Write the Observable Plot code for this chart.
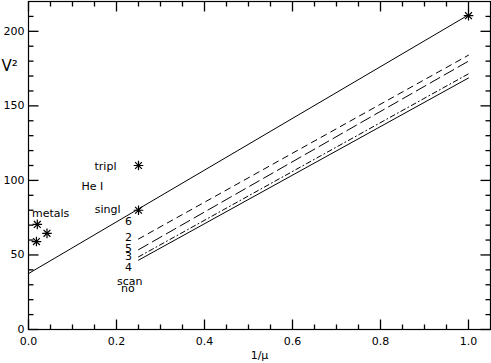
<!DOCTYPE html>
<html><head><meta charset="utf-8">
<script src="https://cdn.jsdelivr.net/npm/d3@7"></script>
<script src="https://cdn.jsdelivr.net/npm/@observablehq/plot@0.6"></script>
<style>body{margin:0;background:#fff}</style>
</head><body><div id="chart"></div>
<script>
// Main relation line and measured points
const mainX = [0, 1.0];
const mainY = [37.5, 211];
const starX = [0.02, 0.042, 0.018, 0.25, 0.25, 1.0];
const starY = [70.5, 64.5, 59, 110, 80, 210.5];
// Four model lines from 1/mu = 0.25 to 1.0
const modelX = [0.25, 1.0];
const shortDashY = [60.7, 184];
const longDashY = [53.5, 180];
const dashDotY = [48.7, 171.5];
const solidY = [46.5, 168.7];
// Annotation labels
const labelText = ["metals", "tripl", "He I", "singl", "6", "2", "5", "3", "4", "scan", "no"];
const labelX = [0.008, 0.175, 0.145, 0.18, 0.227, 0.227, 0.227, 0.227, 0.227, 0.23, 0.226];
const labelY = [77.5, 109.5, 96, 80.7, 72.7, 62, 54.5, 48.7, 41.8, 32, 27.3];
const labelAnchor = ["start","middle","middle","middle","middle","middle","middle","middle","middle","middle","middle"];
// Axis ticks
const xTicks = [0, 0.2, 0.4, 0.6, 0.8, 1.0];
const xMinor = [0.05,0.1,0.15,0.25,0.3,0.35,0.45,0.5,0.55,0.65,0.7,0.75,0.85,0.9,0.95];
const yTicks = [0, 50, 100, 150, 200];
const yMinor = [10,20,30,40,60,70,80,90,110,120,130,140,160,170,180,190,210];
const xDomain = [0, 1.05];
const yDomain = [0, 220];

const W = 491, H = 363, mL = 28, mR = 1, mT = 1, mB = 34;
const iW = W - mL - mR, iH = H - mT - mB;
// pixel lengths of the inward ticks, converted to data units
const dx = px => px * (xDomain[1] - xDomain[0]) / iW;
const dy = px => px * (yDomain[1] - yDomain[0]) / iH;
const seg = (xs, ys) => xs.map((x, i) => ({x, y: ys[i]}));
const labels = labelText.map((t, i) => ({t, x: labelX[i], y: labelY[i], a: labelAnchor[i]}));
const stars = starX.map((x, i) => ({x, y: starY[i]}));
const tickSegs = [];
for (const [vals, px] of [[yTicks, 10], [yMinor, 5]]) for (const v of vals) {
  tickSegs.push({x1: xDomain[0], x2: xDomain[0] + dx(px), y1: v, y2: v});
  tickSegs.push({x1: xDomain[1] - dx(px), x2: xDomain[1], y1: v, y2: v});
}
for (const [vals, px] of [[xTicks, 10], [xMinor, 5]]) for (const v of vals) {
  tickSegs.push({x1: v, x2: v, y1: yDomain[0], y2: yDomain[0] + dy(px)});
  tickSegs.push({x1: v, x2: v, y1: yDomain[1] - dy(px), y2: yDomain[1]});
}
const chart = Plot.plot({
  width: W, height: H,
  marginLeft: mL, marginRight: mR, marginTop: mT, marginBottom: mB,
  style: {fontFamily: "DejaVu Sans", fontSize: "11px", background: "white"},
  x: {domain: xDomain},
  y: {domain: yDomain},
  marks: [
    Plot.axisX(xTicks, {tickSize: 0, tickPadding: 8, tickFormat: d3.format(".1f"), label: null, fontSize: 11}),
    Plot.axisY(yTicks, {tickSize: 0, tickPadding: 4, tickFormat: d3.format("d"), label: null, fontSize: 11}),
    Plot.frame({stroke: "#000", strokeWidth: 1.2}),
    Plot.link(tickSegs, {x1: "x1", x2: "x2", y1: "y1", y2: "y2", stroke: "#000", strokeWidth: 1.3}),
    Plot.line(seg(mainX, mainY), {x: "x", y: "y", stroke: "black", strokeWidth: 1}),
    Plot.line(seg(modelX, shortDashY), {x: "x", y: "y", stroke: "black", strokeWidth: 1, strokeDasharray: "6,5"}),
    Plot.line(seg(modelX, longDashY), {x: "x", y: "y", stroke: "black", strokeWidth: 1, strokeDasharray: "11,5"}),
    Plot.line(seg(modelX, dashDotY), {x: "x", y: "y", stroke: "black", strokeWidth: 1, strokeDasharray: "5,3,1,3"}),
    Plot.line(seg(modelX, solidY), {x: "x", y: "y", stroke: "black", strokeWidth: 1}),
    Plot.dot(stars, {x: "x", y: "y", symbol: "plus", stroke: "black", strokeWidth: 1.2, r: 3.2}),
    Plot.dot(stars, {x: "x", y: "y", symbol: "times", stroke: "black", strokeWidth: 1.2, r: 3.2}),
    Plot.text(labels.filter(d => d.a === "start"), {x: "x", y: "y", text: "t", textAnchor: "start", fill: "black", fontSize: 11}),
    Plot.text(labels.filter(d => d.a === "middle"), {x: "x", y: "y", text: "t", textAnchor: "middle", fill: "black", fontSize: 11}),
    Plot.text(["V²"], {frameAnchor: "top-left", dx: -27, dy: 65, textAnchor: "start", lineAnchor: "middle", fontSize: 15, fill: "black"}),
    Plot.text(["1/μ"], {frameAnchor: "bottom", dy: 26, lineAnchor: "middle", fontSize: 11, fill: "black"})
  ]
});
document.getElementById("chart").appendChild(chart);
</script>
</body></html>
